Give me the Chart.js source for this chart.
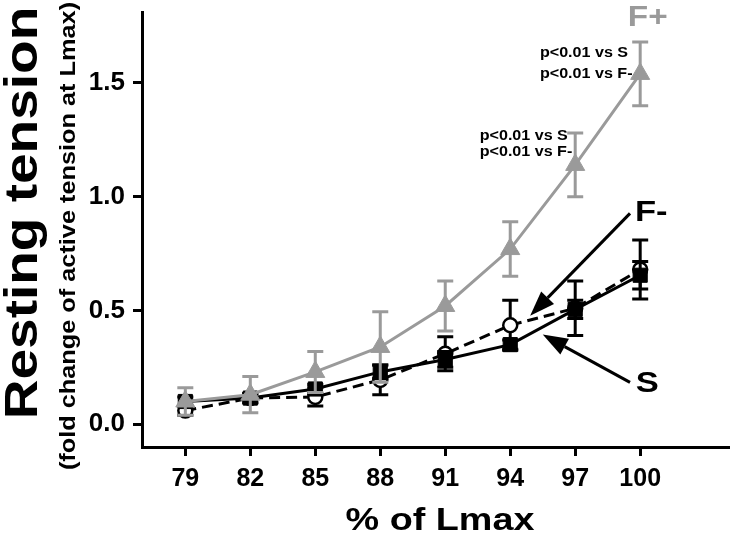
<!DOCTYPE html>
<html>
<head>
<meta charset="utf-8">
<script src="https://cdn.jsdelivr.net/npm/chart.js@4.4.0/dist/chart.umd.min.js"></script>
<style>
  html, body { margin: 0; padding: 0; background: #fff; }
</style>
</head>
<body>
<canvas id="chart" width="741" height="533"></canvas>
<script>
// ---- values ----
const lengths   = [79, 82, 85, 88, 91, 94, 97, 100];           // % of Lmax
const fPlus     = [0.10, 0.13, 0.23, 0.34, 0.52, 0.77, 1.14, 1.54];
const fPlusErr  = [0.06, 0.08, 0.09, 0.155, 0.11, 0.12, 0.14, 0.14];
const sham      = [0.10, 0.115, 0.155, 0.23, 0.285, 0.35, 0.505, 0.655];
const shamErr   = [0.02, 0.02, 0.02, 0.03, 0.035, 0.02, 0.04, 0.06];
const fMinus    = [0.06, 0.115, 0.12, 0.195, 0.31, 0.435, 0.51, 0.68];
const fMinusErr = [0.02, 0.02, 0.04, 0.065, 0.075, 0.11, 0.12, 0.13];
const yTicks    = [0, 0.5, 1.0, 1.5];

const GRAY = "#9a9a9a";
const FONT = '"Liberation Sans", Arial, sans-serif';

// text labels / arrows, placed in data units
const notes = [
  { text: "F+", x: 100.35, y: 1.752, size: 29, color: GRAY, align: "center" },
  { text: "F-", x: 99.76, y: 0.892, size: 30, color: "#000", align: "left" },
  { text: "S",  x: 99.80, y: 0.140, size: 30, color: "#000", align: "left" },
  { text: "p<0.01 vs S",  x: 95.37, y: 1.616, size: 14, color: "#000", align: "left" },
  { text: "p<0.01 vs F-", x: 95.37, y: 1.524, size: 14, color: "#000", align: "left" },
  { text: "p<0.01 vs S",  x: 92.59, y: 1.251, size: 14, color: "#000", align: "left" },
  { text: "p<0.01 vs F-", x: 92.59, y: 1.181, size: 14, color: "#000", align: "left" }
];
const arrows = [
  { from: [99.53, 0.927], to: [94.92, 0.477] },
  { from: [99.53, 0.184], to: [95.50, 0.394] }
];

const toXY = (xs, ys) => xs.map((x, i) => ({ x, y: ys[i] }));

function drawText(ctx, txt, x, y, o) {
  ctx.save();
  ctx.translate(x, y);
  if (o.rot) ctx.rotate(o.rot);
  ctx.scale(o.sx || 1.15, 1);
  ctx.font = `bold ${o.size}px ${FONT}`;
  ctx.fillStyle = o.color || "#000";
  ctx.textAlign = o.align || "left";
  ctx.textBaseline = "alphabetic";
  ctx.fillText(txt, 0, 0);
  ctx.restore();
}

// error bars under each series' own markers
const errorBars = {
  id: "errorBars",
  beforeDatasetDraw(chart, args) {
    const ds = chart.data.datasets[args.index];
    if (!ds.err) return;
    const { ctx } = chart;
    const y = chart.scales.y;
    ctx.save();
    ctx.strokeStyle = ds.borderColor;
    ctx.lineWidth = 3;
    args.meta.data.forEach((pt, i) => {
      const v = ds.data[i].y, e = ds.err[i];
      const top = y.getPixelForValue(v + e), bot = y.getPixelForValue(v - e);
      ctx.beginPath();
      ctx.moveTo(pt.x, top); ctx.lineTo(pt.x, bot);
      ctx.moveTo(pt.x - 8, top); ctx.lineTo(pt.x + 8, top);
      ctx.moveTo(pt.x - 8, bot); ctx.lineTo(pt.x + 8, bot);
      ctx.stroke();
    });
    ctx.restore();
  }
};

const decorations = {
  id: "decorations",
  afterDraw(chart) {
    const { ctx } = chart;
    const xs = chart.scales.x, ys = chart.scales.y;
    const px = v => xs.getPixelForValue(v), py = v => ys.getPixelForValue(v);

    notes.forEach(n => drawText(ctx, n.text, px(n.x), py(n.y), n));

    arrows.forEach(a => {
      const x1 = px(a.from[0]), y1 = py(a.from[1]);
      const x2 = px(a.to[0]), y2 = py(a.to[1]);
      const ang = Math.atan2(y2 - y1, x2 - x1);
      const len = 25, half = 9;
      const bx = x2 - Math.cos(ang) * len, by = y2 - Math.sin(ang) * len;
      ctx.save();
      ctx.strokeStyle = "#000"; ctx.fillStyle = "#000"; ctx.lineWidth = 3;
      ctx.beginPath(); ctx.moveTo(x1, y1); ctx.lineTo(bx, by); ctx.stroke();
      ctx.beginPath();
      ctx.moveTo(x2, y2);
      ctx.lineTo(bx + Math.sin(ang) * half, by - Math.cos(ang) * half);
      ctx.lineTo(bx - Math.sin(ang) * half, by + Math.cos(ang) * half);
      ctx.closePath(); ctx.fill();
      ctx.restore();
    });

    // axis titles
    drawText(ctx, "Resting tension", 37, 213, { size: 47, rot: -Math.PI / 2, align: "center", sx: 1.17 });
    drawText(ctx, "(fold change of active tension at Lmax)", 75, 236, { size: 22, rot: -Math.PI / 2, align: "center", sx: 1.15 });
    drawText(ctx, "% of Lmax", 440, 530, { size: 32, align: "center", sx: 1.18 });
  }
};

new Chart(document.getElementById("chart"), {
  type: "line",
  data: {
    datasets: [
      {
        label: "F+", data: toXY(lengths, fPlus), err: fPlusErr,
        borderColor: GRAY, borderWidth: 3,
        pointStyle: "triangle", pointRadius: 11, pointBackgroundColor: GRAY,
        pointBorderColor: GRAY, pointBorderWidth: 1
      },
      {
        label: "S", data: toXY(lengths, sham), err: shamErr,
        borderColor: "#000", borderWidth: 3,
        pointStyle: "rect", pointRadius: 10, pointBackgroundColor: "#000",
        pointBorderColor: "#000", pointBorderWidth: 1
      },
      {
        label: "F-", data: toXY(lengths, fMinus), err: fMinusErr,
        borderColor: "#000", borderWidth: 3, borderDash: [11, 6],
        pointStyle: "circle", pointRadius: 7, pointBackgroundColor: "#fff",
        pointBorderColor: "#000", pointBorderWidth: 2.5
      }
    ]
  },
  options: {
    responsive: false,
    animation: false,
    devicePixelRatio: 1,
    layout: { padding: { top: 10, right: 0, left: 0, bottom: 0 } },
    plugins: { legend: { display: false }, tooltip: { enabled: false } },
    elements: { line: { tension: 0 } },
    scales: {
      x: {
        type: "linear", min: 77, max: 104.1,
        afterBuildTicks: s => { s.ticks = lengths.map(v => ({ value: v })); },
        afterFit: s => { s.height = 86; s.paddingLeft = 0; s.paddingRight = 0; },
        grid: { drawOnChartArea: false, drawTicks: true, tickLength: 9, tickWidth: 3, tickColor: "#000" },
        border: { color: "#000", width: 3 },
        ticks: {
          color: "#000", padding: 8, maxRotation: 0,
          font: { family: FONT, size: 25, weight: "bold" },
          callback: v => String(v)
        }
      },
      y: {
        type: "linear", min: -0.1, max: 1.812,
        afterBuildTicks: s => { s.ticks = yTicks.map(v => ({ value: v })); },
        afterFit: s => { s.width = 142; s.paddingTop = 0; s.paddingBottom = 0; },
        grid: { drawOnChartArea: false, drawTicks: true, tickLength: 9, tickWidth: 3, tickColor: "#000" },
        border: { color: "#000", width: 3 },
        ticks: {
          color: "#000", padding: 8,
          font: { family: FONT, size: 26, weight: "bold" },
          callback: v => v.toFixed(1)
        }
      }
    }
  },
  plugins: [errorBars, decorations]
});
</script>
</body>
</html>
